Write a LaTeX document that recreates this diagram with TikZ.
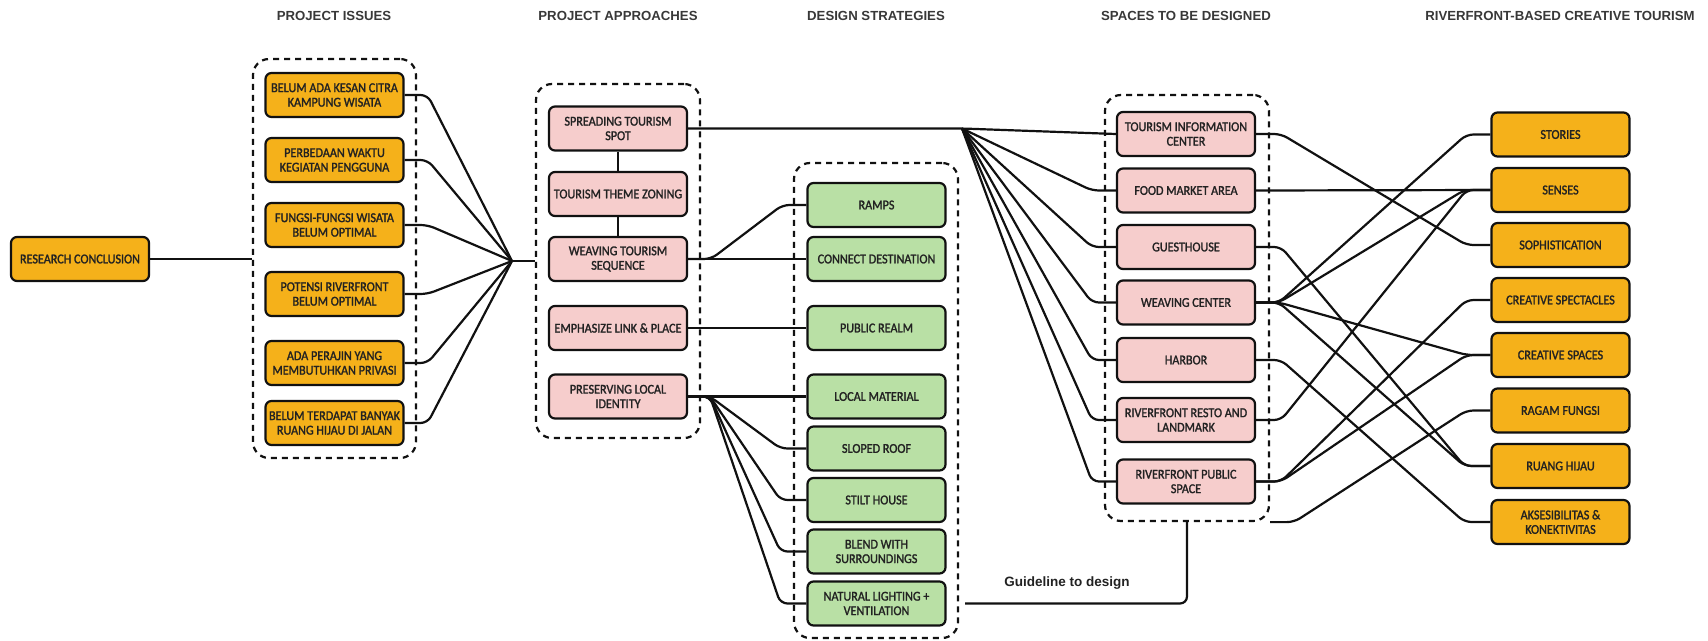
\documentclass[tikz,border=0pt]{standalone}
\usepackage{fontspec}
\setmainfont{Liberation Sans}
\newfontfamily\cardfont{Carlito}[FakeStretch=0.9, FakeBold=1.6]
\usetikzlibrary{calc}

\definecolor{issueorange}{HTML}{F5B11A}
\definecolor{approachpink}{HTML}{F6CDCC}
\definecolor{strategygreen}{HTML}{B9E0A5}
\definecolor{inkline}{HTML}{111111}
\definecolor{inktext}{HTML}{222222}

\tikzset{
  card/.style={draw=inkline, line width=2.2pt, rounded corners=6pt,
    minimum width=138pt, minimum height=44pt, inner sep=1pt, align=center,
    text=inktext, font=\cardfont\fontsize{13.5}{14.5}\selectfont},
  orangecard/.style={card, fill=issueorange},
  pinkcard/.style={card, fill=approachpink},
  greencard/.style={card, fill=strategygreen},
  groupbox/.style={draw=inkline, line width=2.2pt, dash pattern=on 6pt off 5pt,
    rounded corners=16pt, inner sep=0pt},
  link/.style={draw=inkline, line width=2.2pt, rounded corners=7pt},
  header/.style={text=inktext!90, font=\bfseries\fontsize{13.2}{16}\selectfont},
  guidetext/.style={text=inktext, font=\bfseries\fontsize{13.5}{16}\selectfont}
}

\begin{document}
\begin{tikzpicture}[x=1pt, y=-1pt]
\useasboundingbox (0,0) rectangle (1708,640);

% column headers
\node[header] (h1) at (334,16) {PROJECT ISSUES};
\node[header] (h2) at (618,16) {PROJECT APPROACHES};
\node[header] (h3) at (876,16) {DESIGN STRATEGIES};
\node[header] (h4) at (1186,16) {SPACES TO BE DESIGNED};
\node[header] (h5) at (1560,16) {RIVERFRONT-BASED CREATIVE TOURISM};

% dashed groups
\node[groupbox, minimum width=163pt, minimum height=399pt] (issuesgroup) at (334.5,258.5) {};
\node[groupbox, minimum width=164pt, minimum height=354pt] (approachgroup) at (618,261) {};
\node[groupbox, minimum width=164pt, minimum height=475pt] (strategygroup) at (876,400.5) {};
\node[groupbox, minimum width=164pt, minimum height=426pt] (spacegroup) at (1187,308) {};

% research conclusion
\node[orangecard] (research) at (80,259) {RESEARCH CONCLUSION};

% project issues
\node[orangecard] (i1) at (334.5,95)  {BELUM ADA KESAN CITRA\\KAMPUNG WISATA};
\node[orangecard] (i2) at (334.5,160) {PERBEDAAN WAKTU\\KEGIATAN PENGGUNA};
\node[orangecard] (i3) at (334.5,225) {FUNGSI-FUNGSI WISATA\\BELUM OPTIMAL};
\node[orangecard] (i4) at (334.5,294) {POTENSI RIVERFRONT\\BELUM OPTIMAL};
\node[orangecard] (i5) at (334.5,363) {ADA PERAJIN YANG\\MEMBUTUHKAN PRIVASI};
\node[orangecard] (i6) at (334.5,423) {BELUM TERDAPAT BANYAK\\RUANG HIJAU DI JALAN};

% project approaches
\node[pinkcard] (a1) at (618,128.5) {SPREADING TOURISM\\SPOT};
\node[pinkcard] (a2) at (618,194)   {TOURISM THEME ZONING};
\node[pinkcard] (a3) at (618,259)   {WEAVING TOURISM\\SEQUENCE};
\node[pinkcard] (a4) at (618,328)   {EMPHASIZE LINK \& PLACE};
\node[pinkcard] (a5) at (618,396.5) {PRESERVING LOCAL\\IDENTITY};

% design strategies
\node[greencard] (g1) at (876.5,205)   {RAMPS};
\node[greencard] (g2) at (876.5,259)   {CONNECT DESTINATION};
\node[greencard] (g3) at (876.5,328)   {PUBLIC REALM};
\node[greencard] (g4) at (876.5,396.5) {LOCAL MATERIAL};
\node[greencard] (g5) at (876.5,448.5) {SLOPED ROOF};
\node[greencard] (g6) at (876.5,500)   {STILT HOUSE};
\node[greencard] (g7) at (876.5,551.5) {BLEND WITH\\SURROUNDINGS};
\node[greencard] (g8) at (876.5,603.5) {NATURAL LIGHTING +\\VENTILATION};

% spaces to be designed
\node[pinkcard] (s1) at (1186,134)   {TOURISM INFORMATION\\CENTER};
\node[pinkcard] (s2) at (1186,190.5) {FOOD MARKET AREA};
\node[pinkcard] (s3) at (1186,247)   {GUESTHOUSE};
\node[pinkcard] (s4) at (1186,302.5) {WEAVING CENTER};
\node[pinkcard] (s5) at (1186,360)   {HARBOR};
\node[pinkcard] (s6) at (1186,420)   {RIVERFRONT RESTO AND\\LANDMARK};
\node[pinkcard] (s7) at (1186,481.5) {RIVERFRONT PUBLIC\\SPACE};

% riverfront-based creative tourism
\node[orangecard] (c1) at (1560.5,134.5) {STORIES};
\node[orangecard] (c2) at (1560.5,190)   {SENSES};
\node[orangecard] (c3) at (1560.5,245)   {SOPHISTICATION};
\node[orangecard] (c4) at (1560.5,300)   {CREATIVE SPECTACLES};
\node[orangecard] (c5) at (1560.5,355)   {CREATIVE SPACES};
\node[orangecard] (c6) at (1560.5,410.5) {RAGAM FUNGSI};
\node[orangecard] (c7) at (1560.5,466)   {RUANG HIJAU};
\node[orangecard] (c8) at (1560.5,522)   {AKSESIBILITAS \&\\KONEKTIVITAS};

% junction points
\coordinate (issuefan) at (512,261);
\coordinate (spotfan) at (962,128.5);
\coordinate (identityfan) at (710,396.5);
\coordinate (weavefan) at (1279,302.5);

% research conclusion to the issues
\draw[link] (research.east) -- (issuesgroup.west |- research.east);

% issues converge on the approaches
\foreach \n in {i1,i2,i3,i4,i5,i6}
  \draw[link] (\n.east) -- ++(23,0) -- (issuefan);
\draw[link] (issuefan) -- (approachgroup.west);

% chain of approaches
\draw[link] (a1.south) -- (a2.north);
\draw[link] (a2.south) -- (a3.north);

% approaches to strategies
\draw[link] (a3.east) -- ++(23,0) -- ([xshift=-24pt]g1.west) -- (g1.west);
\draw[link] (a3.east) -- (g2.west);
\draw[link] (a4.east) -- (g3.west);
\draw[link] (a5.east) -- (g4.west);
\foreach \n in {g5,g6,g7,g8}
  \draw[link] (a5.east) -- (identityfan) -- ([xshift=-26pt]\n.west) -- (\n.west);

% spreading tourism spot to the spaces
\draw[link] (a1.east) -- (spotfan) -- (s1.west);
\foreach \n in {s2,s3,s4,s5,s6,s7}
  \draw[link] (spotfan) -- ([xshift=-24pt]\n.west) -- (\n.west);

% strategies feed the spaces
\draw[link] ([xshift=6pt]strategygroup.east |- g8.east) -- (spacegroup.south |- g8.east) -- (spacegroup.south);
\node[guidetext] (guidelabel) at (1067,583) {Guideline to design};

% spaces to creative tourism
\draw[link] (s1.east) -- ++(25,0) -- ([xshift=-24pt]c3.west) -- (c3.west);
\draw[link] (s2.east) -- (c2.west);
\draw[link] (s3.east) -- ++(25,0) -- ([xshift=-26pt]c7.west) -- (c7.west);
\draw[link] (s4.east) -- (weavefan) -- ([xshift=-24pt]c1.west) -- (c1.west);
\draw[link] (s4.east) -- (weavefan) -- ([xshift=-26pt]c2.west) -- (c2.west);
\draw[link] (s4.east) -- (weavefan) -- ([xshift=-24pt]c5.west) -- (c5.west);
\draw[link] (s4.east) -- (weavefan) -- ([xshift=-26pt]c7.west) -- (c7.west);
\draw[link] (s5.east) -- ++(25,0) -- ([xshift=-26pt]c8.west) -- (c8.west);
\draw[link] (s6.east) -- ++(25,0) -- ([xshift=-24pt]c2.west) -- (c2.west);
\draw[link] (s7.east) -- ++(25,0) -- ([xshift=-24pt]c4.west) -- (c4.west);
\draw[link] (s7.east) -- ++(25,0) -- ([xshift=-24pt]c5.west) -- (c5.west);
\draw[link] (spacegroup.south east) -- ++(24,0) -- ([xshift=-24pt]c6.west) -- (c6.west);
\end{tikzpicture}
\end{document}
